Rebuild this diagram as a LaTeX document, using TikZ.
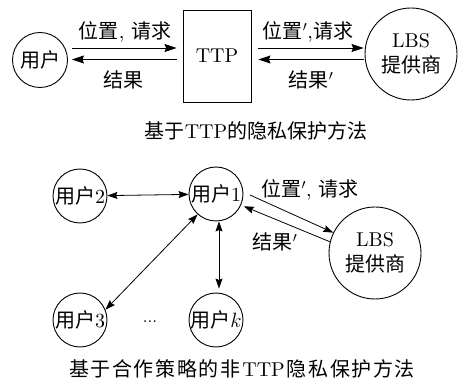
\documentclass[tikz,border=0pt]{standalone}
\usepackage{fontspec}
\setmainfont{lmroman10-regular.otf}[ItalicFont=lmroman10-italic.otf,BoldFont=lmroman10-bold.otf]
\newfontfamily\cjk{Noto Sans CJK SC}
\newfontfamily\cjkwide[LetterSpace=8]{Noto Sans CJK SC}
\usetikzlibrary{arrows.meta,calc}
\begin{document}
\begin{tikzpicture}[x=1pt,y=-1pt,
  font=\fontsize{20}{25}\selectfont,
  every node/.style={inner sep=0pt},
  circ/.style={draw, circle, line width=0.9pt, minimum size=#1},
  boxnode/.style={draw, line width=0.9pt, minimum width=68pt, minimum height=92pt},
  tarr/.style={-{Stealth[length=12pt,width=8pt,inset=1.5pt]}, line width=0.9pt},
  barr/.style={-{Stealth[length=10pt,width=7pt,inset=1.5pt]}, line width=0.8pt},
  bdarr/.style={{Stealth[length=10pt,width=7pt,inset=1.5pt]}-{Stealth[length=10pt,width=7pt,inset=1.5pt]}, line width=0.8pt}
]
\fill[white] (0,0) rectangle (461,382);
\useasboundingbox (0,0) rectangle (461,382);

% top: TTP-based
\node[circ=55pt] (u) at (40,60) {\makebox[0pt]{\cjk 用户}};
\node[boxnode] (ttp) at (217,56) {TTP};
\node[circ=92pt, align=center] (lbs) at (411,54) {LBS\\{\cjk 提供商}};

\draw[tarr] ($(u.east)+(4,-12)$) -- ($(ttp.west)+(-6,-8)$);
\draw[tarr] ($(ttp.west)+(-6,3.5)$) -- ($(u.east)+(4,-0.5)$);
\draw[tarr] ($(ttp.east)+(7,-8)$) -- ($(lbs.west)+(-1,-6)$);
\draw[tarr] ($(lbs.west)+(-1,5.5)$) -- ($(ttp.east)+(7,3.5)$);

\node (l1) at (125,32) {{\cjk 位置}, {\cjk 请求}};
\node (l2) at (123,80) {\cjk 结果};
\node (l3) at (308,32) {{\cjk 位置}$'$,{\cjk 请求}};
\node (l4) at (311,80) {{\cjk 结果}$'$};
\node (c1) at (256,131) {{\cjk 基于}TTP{\cjk 的隐私保护方法}};

% bottom: cooperative non-TTP
\node[circ=54pt] (u1) at (216,194) {\makebox[0pt]{{\cjk 用户}1}};
\node[circ=54pt] (u2) at (80,196) {\makebox[0pt]{{\cjk 用户}2}};
\node[circ=54pt] (u3) at (80,320) {\makebox[0pt]{{\cjk 用户}3}};
\node[circ=54pt] (uk) at (216,320) {\makebox[0pt]{{\cjk 用户}$k$}};
\node[font=\fontsize{17}{20}\selectfont] (dots) at (150,322) {...};
\node[circ=92pt, align=center] (lbs2) at (375,253) {LBS\\{\cjk 提供商}};

\draw[bdarr] (u2) -- (u1);
\draw[bdarr, shorten >=4pt] ($(u1.south)+(3,0)$) -- ($(uk.north)+(3,0)$);
\draw[bdarr] (u1.228) -- (u3.22);
\draw[barr] ($(u1.east)+(6.5,1)$) -- (lbs2.154);
\draw[barr, shorten >=3pt] (lbs2.166) -- (u1.336);

\node (l5) at (310,190) {{\cjk 位置}$'$, {\cjk 请求}};
\node (l6) at (275,242) {{\cjk 结果}$'$};
\node (c2) at (242,369) {{\cjkwide 基于合作策略的非}\hspace{2pt}TTP\hspace{2pt}{\cjkwide 隐私保护方法}};
\end{tikzpicture}
\end{document}
